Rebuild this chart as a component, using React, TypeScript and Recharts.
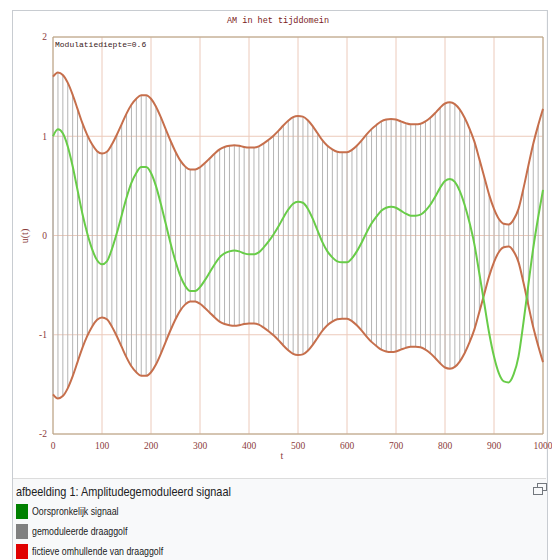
import { Bar, CartesianGrid, ComposedChart, Line, ReferenceArea, XAxis, YAxis } from "recharts";

// sample positions along t (step 10)
const tValues = Array.from({ length: 101 }, (_, i) => i * 10);

// original signal at every 10 t
const signal = [
  1.0, 1.07, 1.03, 0.9, 0.7, 0.46, 0.22, 0.02, -0.14, -0.25,
  -0.29, -0.26, -0.14, 0.02, 0.2, 0.38, 0.53, 0.63, 0.69, 0.69,
  0.63, 0.5, 0.32, 0.12, -0.08, -0.26, -0.41, -0.51, -0.56, -0.56,
  -0.52, -0.45, -0.37, -0.29, -0.22, -0.18, -0.16, -0.15, -0.16, -0.18,
  -0.19, -0.19, -0.17, -0.12, -0.06, 0.01, 0.09, 0.18, 0.26, 0.32,
  0.34, 0.33, 0.27, 0.17, 0.05, -0.07, -0.16, -0.22, -0.26, -0.27,
  -0.27, -0.23, -0.16, -0.07, 0.03, 0.12, 0.19, 0.25, 0.28, 0.29,
  0.28, 0.25, 0.22, 0.2, 0.2, 0.21, 0.25, 0.31, 0.39, 0.48,
  0.55, 0.57, 0.54, 0.45, 0.31, 0.13, -0.09, -0.38, -0.68, -0.98,
  -1.22, -1.39, -1.47, -1.48, -1.4, -1.22, -0.88, -0.5, -0.13, 0.18,
  0.46,
];

const modulationDepth = 0.6;

const xTicks = [0, 100, 200, 300, 400, 500, 600, 700, 800, 900, 1000];
const yTicks = [-2, -1, 0, 1, 2];

const legendItems = [
  { label: "Oorspronkelijk signaal", color: "#008000" },
  { label: "gemoduleerde draaggolf", color: "#808080" },
  { label: "fictieve omhullende van draaggolf", color: "#e00000" },
];

// carrier strokes run from lower to upper envelope
const data = tValues.map((t, i) => {
  const env = 1 + modulationDepth * signal[i];
  return {
    t,
    signal: signal[i],
    upper: env,
    lower: -env,
    carrier: [-env, env],
  };
});

const mono = "'Liberation Mono', 'DejaVu Sans Mono', monospace";
const tickStyle = { fontSize: 9.5, fill: "#8b3b3b", fontFamily: "'Liberation Serif', serif" };

export default function App() {
  return (
    <div
      style={{
        position: "absolute",
        left: 0,
        top: 0,
        width: 552,
        height: 560,
        background: "#fff",
        overflow: "hidden",
      }}
    >
      {/* thumbnail frame */}
      <div
        style={{
          position: "absolute",
          left: 12,
          top: 10,
          width: 534,
          height: 560,
          border: "1px solid #c8ccd1",
          background: "#f8f9fa",
        }}
      />
      <div
        style={{
          position: "absolute",
          left: 13,
          top: 11,
          width: 533,
          height: 467,
          background: "#fff",
          borderBottom: "1px solid #dcdcdc",
        }}
      />

      <div style={{ position: "absolute", left: 0, top: 0 }}>
        <ComposedChart
          width={552}
          height={480}
          data={data}
          margin={{ top: 37, right: 9, bottom: 0, left: 0 }}
        >
          <CartesianGrid stroke="#eccabb" strokeWidth={1} />
          <XAxis
            dataKey="t"
            type="number"
            domain={[0, 1000]}
            ticks={xTicks}
            height={46}
            axisLine={false}
            tickLine={false}
            tickSize={0}
            tickMargin={8}
            tick={tickStyle}
            interval={0}
          />
          <YAxis
            type="number"
            domain={[-2, 2]}
            ticks={yTicks}
            width={53}
            axisLine={false}
            tickLine={false}
            tickSize={0}
            tickMargin={6}
            tick={tickStyle}
            interval={0}
          />
          <ReferenceArea x1={0} x2={1000} y1={-2} y2={2} fill="none" stroke="#b4a486" strokeWidth={1} />
          <Bar dataKey="carrier" fill="#b4b4b4" barSize={1} isAnimationActive={false} />
          <Line
            type="monotone"
            dataKey="upper"
            stroke="#c66f4c"
            strokeWidth={2}
            dot={false}
            isAnimationActive={false}
          />
          <Line
            type="monotone"
            dataKey="lower"
            stroke="#c66f4c"
            strokeWidth={2}
            dot={false}
            isAnimationActive={false}
          />
          <Line
            type="monotone"
            dataKey="signal"
            stroke="#68cc48"
            strokeWidth={2}
            dot={false}
            isAnimationActive={false}
          />
        </ComposedChart>
      </div>

      {/* chart texts */}
      <div
        style={{
          position: "absolute",
          left: 0,
          width: 552,
          top: 16,
          textAlign: "center",
          fontFamily: mono,
          fontSize: 8.5,
          color: "#7a1a1a",
          paddingLeft: 2,
        }}
      >
        AM in het tijddomein
      </div>
      <div
        style={{
          position: "absolute",
          left: 55,
          top: 40,
          fontFamily: mono,
          fontSize: 8,
          color: "#3a1a1a",
        }}
      >
        Modulatiediepte=0.6
      </div>
      <div
        style={{
          position: "absolute",
          left: 24,
          top: 236,
          transform: "translate(-50%, -50%) rotate(-90deg)",
          fontFamily: "'Liberation Serif', serif",
          fontSize: 10,
          color: "#8b3b3b",
          whiteSpace: "nowrap",
        }}
      >
        u(t)
      </div>
      <div
        style={{
          position: "absolute",
          left: 282,
          top: 455,
          transform: "translate(-50%, -50%)",
          fontFamily: "'Liberation Serif', serif",
          fontSize: 10,
          color: "#8b3b3b",
        }}
      >
        t
      </div>

      {/* caption */}
      <div
        style={{
          position: "absolute",
          left: 16,
          top: 484,
          fontFamily: "'Liberation Sans', Arial, sans-serif",
          fontSize: 13,
          color: "#202122",
          whiteSpace: "nowrap",
          transform: "scaleX(0.84)",
          transformOrigin: "left top",
        }}
      >
        afbeelding 1: Amplitudegemoduleerd signaal
      </div>
      <svg
        width={14}
        height={12}
        style={{ position: "absolute", left: 533, top: 483 }}
      >
        <rect x={4.5} y={0.5} width={9} height={7} fill="none" stroke="#72777d" />
        <rect x={0.5} y={4.5} width={9} height={7} fill="#f8f9fa" stroke="#72777d" />
      </svg>
      {legendItems.map((item, i) => (
        <div
          key={item.label}
          style={{ position: "absolute", left: 16, top: 503 + i * 20, height: 16 }}
        >
          <div
            style={{
              position: "absolute",
              left: 0,
              top: 1,
              width: 12,
              height: 15,
              background: item.color,
            }}
          />
          <div
            style={{
              position: "absolute",
              left: 16,
              top: 2,
              fontFamily: "'Liberation Sans', Arial, sans-serif",
              fontSize: 11,
              color: "#202122",
              whiteSpace: "nowrap",
              transform: "scaleX(0.8)",
              transformOrigin: "left top",
            }}
          >
            {item.label}
          </div>
        </div>
      ))}
    </div>
  );
}
